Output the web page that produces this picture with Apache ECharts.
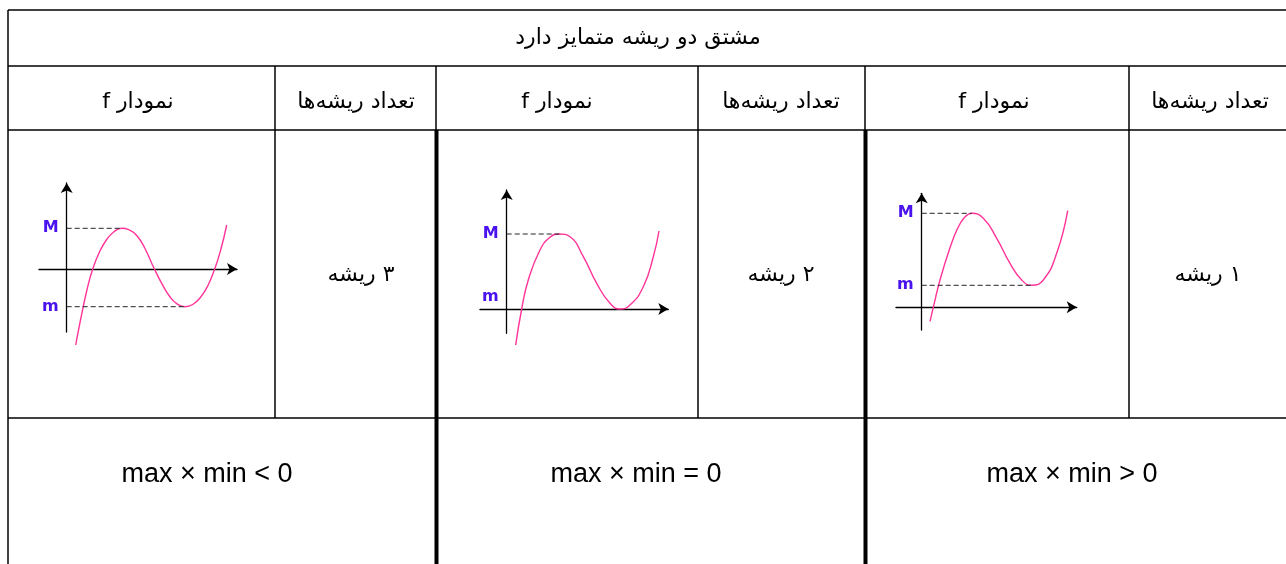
<!DOCTYPE html>
<html>
<head>
<meta charset="utf-8">
<script src="https://cdn.jsdelivr.net/npm/echarts@6/dist/echarts.min.js"></script>
<style>
html,body{margin:0;padding:0;background:#fff;}
#chart{width:1286px;height:564px;}
</style>
</head>
<body>
<div id="chart"></div>
<script>
// ---- texts ----
const titleText = 'مشتق دو ریشه متمایز دارد';
const graphHeader = 'نمودار f';
const countHeader = 'تعداد ریشه‌ها';
const rootCounts = ['۳ ریشه', '۲ ریشه', '۱ ریشه'];
const conditions = ['max × min < 0', 'max × min = 0', 'max × min > 0'];
const extremaLabels = ['M', 'm'];

// ---- curve samples (x from y-axis, y from x-axis) ----
const curve1 = [[9,-76],[14,-50],[20,-22],[26,0],[33,17.5],[40,29.5],[47,37],[55,40.7],[62,39.3],[70,33.5],[78,21],[87,1.5],[95,-14.3],[103,-27.5],[110,-34.6],[118.3,-37.7],[126,-35.5],[134,-28],[141,-17],[148,0],[154,19],[160,44]];
const curve2 = [[9,-36],[15,0],[21.6,29],[33.3,59],[43.3,71.7],[52.6,75],[63.3,72.3],[76.6,52.3],[90,25.7],[103.3,5.7],[113.3,0],[123.3,4],[136.6,22.3],[146.6,52.3],[152.3,78]];
const curve3 = [[8.3,-14],[11.6,0],[18.3,27.3],[28.3,59.5],[36,79],[43,90],[50,94],[61.6,89],[75,69],[88.3,44],[100,27.3],[110,22],[121.6,27.3],[135,54],[146,96.6]];
const curves = [curve1, curve2, curve3];

// maxima / minima points [x, y]
const maxPoints = [[55,40.7],[52.6,75],[50,94]];
const minPoints = [[118.3,-37.7],[113.3,0],[110,22]];

// axis ranges
const xRanges = [[-27.7,170.3],[-26.7,161.6],[-25.7,155]];
const yRanges = [[-63,86],[-24.3,119],[-22.7,114]];

// ---- layout ----
const grids = [
  {left:39, top:183, width:198, height:149},
  {left:480, top:190, width:188.3, height:143.3},
  {left:896, top:193.3, width:180.7, height:136.7}
];
const graphCenters = [138, 557, 994];
const countCenters = [356, 781, 1210];
const rootCenters = [361, 781, 1208];
const condCenters = [207, 636, 1072];

const persianFont = '"DejaVu Sans", "Noto Sans", sans-serif';
const lineColor = '#000';
const curveColor = '#ff3399';
const labelColor = '#4a12ee';
const rtl = s => '\u202B' + s + '\u202C';

const chart = echarts.init(document.getElementById('chart'));

const xAxes = [], yAxes = [], series = [];
const axisLineBase = {show:true, onZero:true, symbol:['none','arrow'], symbolSize:[9,10],
  lineStyle:{color:'#000', width:1.3}};
for (let i = 0; i < 3; i++) {
  xAxes.push({
    type:'value', gridIndex:i, min:xRanges[i][0], max:xRanges[i][1],
    splitLine:{show:false}, axisTick:{show:false}, axisLabel:{show:false},
    axisLine:axisLineBase
  });
  yAxes.push({
    type:'value', gridIndex:i, min:yRanges[i][0], max:yRanges[i][1],
    splitLine:{show:false}, axisTick:{show:false}, axisLabel:{show:false},
    axisLine:axisLineBase
  });
  const mx = maxPoints[i][1], mn = minPoints[i][1];
  const isZeroMin = mn === 0;
  series.push({
    type:'line', xAxisIndex:i, yAxisIndex:i, data:curves[i], smooth:0.5,
    showSymbol:false, clip:false, silent:true,
    lineStyle:{color:curveColor, width:1.4}
  });
  series.push({
    type:'line', xAxisIndex:i, yAxisIndex:i, data:[[0,mx],[maxPoints[i][0],mx]],
    showSymbol:false, silent:true, lineStyle:{color:'#222', width:1, type:[5,3]}
  });
  if (!isZeroMin) {
    series.push({
      type:'line', xAxisIndex:i, yAxisIndex:i, data:[[0,mn],[minPoints[i][0],mn]],
      showSymbol:false, silent:true, lineStyle:{color:'#222', width:1, type:[5,3]}
    });
  }
  // M / m labels attached to the y-axis
  series.push({
    type:'scatter', xAxisIndex:i, yAxisIndex:i, symbolSize:0, silent:true, clip:false,
    itemStyle:{opacity:1},
    data:[
      {value:[0,mx], label:{formatter:extremaLabels[0]}},
      {value:[0,mn], label:{formatter:extremaLabels[1], offset:[0, isZeroMin ? -12 : 0]}}
    ],
    label:{show:true, position:'left', distance:8, color:labelColor, fontSize:16,
      fontWeight:'bold', opacity:1, fontFamily:'"DejaVu Sans", sans-serif'}
  });
}

// table lines
const g = [];
function ln(x1,y1,x2,y2,w){
  g.push({type:'line', silent:true, shape:{x1,y1,x2,y2}, style:{stroke:lineColor, lineWidth:w||1.5}});
}
ln(8,10,1286,10);
ln(8,66,1286,66);
ln(8,130,1286,130);
ln(8,418,1286,418);
ln(8,10,8,564);
[275,436,698,865,1129].forEach(x=>ln(x,66,x,130));
[275,698,1129].forEach(x=>ln(x,130,x,418));
[436.5,865.5].forEach(x=>ln(x,130,x,564,4));

function tx(text,x,y,font){
  g.push({type:'text', silent:true, style:{text, x, y, align:'center', verticalAlign:'middle', font, fill:'#000'}});
}
tx(rtl(titleText), 638, 38, '22px ' + persianFont);
for (let i = 0; i < 3; i++) {
  tx(rtl(graphHeader), graphCenters[i], 102, '22px ' + persianFont);
  tx(rtl(countHeader), countCenters[i], 102, '22px ' + persianFont);
  tx(rtl(rootCounts[i]), rootCenters[i], 275, '22px ' + persianFont);
  tx(conditions[i], condCenters[i], 475, '27px "Liberation Sans", Arial, sans-serif');
}

chart.setOption({
  animation:false,
  backgroundColor:'#fff',
  grid:grids,
  xAxis:xAxes,
  yAxis:yAxes,
  series:series,
  graphic:g
});
</script>
</body>
</html>
